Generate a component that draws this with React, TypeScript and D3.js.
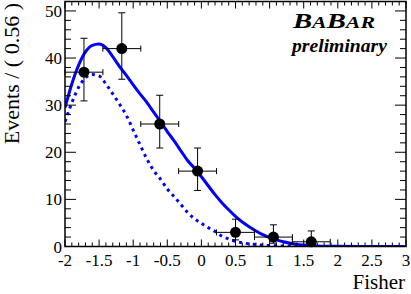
import React from "react";
import * as d3 from "d3";

// ---- data ----
const binCenters = [-1.722, -1.167, -0.611, -0.056, 0.5, 1.056, 1.611];
const counts = [37, 42, 26, 16, 3, 2, 1];
const errHigh = [44.2, 49.6, 32.1, 20.9, 5.8, 4.6, 3.3];
const errLow = [30.9, 35.5, 20.9, 11.9, 1.4, 0.7, 0.17];
const binWidth = 0.556;

const curveX = [-2.0, -1.9, -1.8, -1.7, -1.6, -1.5, -1.4, -1.3, -1.2, -1.1, -1.0, -0.9, -0.8, -0.7, -0.6, -0.5, -0.4, -0.3, -0.2, -0.1, 0.0, 0.1, 0.2, 0.3, 0.4, 0.5, 0.6, 0.7, 0.8, 0.9, 1.0, 1.1, 1.2, 1.3, 1.4, 1.5, 1.7, 2.0, 2.5, 3.0];
const totalFit = [29.5, 34.5, 38.5, 41.3, 42.7, 43.0, 42.2, 40.3, 38.2, 36.3, 34.3, 32.4, 30.6, 28.5, 26.5, 24.4, 22.4, 20.3, 18.2, 16.6, 14.8, 12.9, 11.0, 9.3, 7.8, 6.4, 5.2, 4.2, 3.3, 2.5, 1.9, 1.4, 1.0, 0.7, 0.45, 0.3, 0.12, 0.03, 0.0, 0.0];
const componentFit = [26.5, 30.5, 33.8, 35.8, 36.5, 36.2, 34.5, 32.4, 30.2, 27.8, 24.7, 21.6, 18.6, 16.1, 14.3, 12.2, 10.6, 8.9, 7.2, 5.9, 4.9, 4.0, 3.2, 2.2, 1.6, 1.1, 0.8, 0.55, 0.4, 0.3, 0.2, 0.15, 0.12, 0.08, 0.06, 0.04, 0.02, 0.0, 0.0, 0.0];

const xTicks = [-2, -1.5, -1, -0.5, 0, 0.5, 1, 1.5, 2, 2.5, 3];
const xTickLabels = ["-2", "-1.5", "-1", "-0.5", "0", "0.5", "1", "1.5", "2", "2.5", "3"];
const yTicks = [0, 10, 20, 30, 40, 50];
const yTickLabels = ["0", "10", "20", "30", "40", "50"];

const xTitle = "Fisher";
const yTitle = "Events / ( 0.56 )";

export default function App() {
  const W = 411, H = 294;
  const L = 65, R = 406, T = 1.5, B = 246.5;
  const x = d3.scaleLinear().domain([-2, 3]).range([L, R]);
  const y = d3.scaleLinear().domain([0, 52]).range([B, T]);
  const font = '"Liberation Serif", "DejaVu Serif", Times, serif';
  const ts = { fontFamily: font };

  const line = d3
    .line<number>()
    .x((_, i) => x(curveX[i]))
    .curve(d3.curveMonotoneX);
  const totalPath = line.y((d) => y(d))(totalFit) || "";
  const compPath = line.y((d) => y(d))(componentFit) || "";

  const xMinor = d3.range(-2, 3.0001, 0.1).map((v) => +v.toFixed(2));
  const yMinor = d3.range(0, 52.0001, 2);

  return (
    <svg width={W} height={H} style={{ position: "absolute", left: 0, top: 0, background: "#fff", fontFamily: font }}>
      <rect x={0} y={0} width={W} height={H} fill="#fff" />
      <defs>
        <clipPath id="plotclip">
          <rect x={L} y={T} width={R - L} height={B - T} />
        </clipPath>
      </defs>

      {/* curves */}
      <g clipPath="url(#plotclip)">
        <path d={compPath} fill="none" stroke="#0000ff" strokeWidth={3} strokeDasharray="3 4" />
        <path d={totalPath} fill="none" stroke="#0000ff" strokeWidth={3} />
      </g>

      {/* data points */}
      <g>
        {binCenters.map((c, i) => {
          const cx = x(c);
          const cy = y(counts[i]);
          const x0 = x(c - binWidth / 2);
          const x1 = x(c + binWidth / 2);
          const yh = y(errHigh[i]);
          const yl = y(errLow[i]);
          return (
            <g key={i} stroke="#000" strokeWidth={1}>
              <line x1={x0} x2={x1} y1={cy} y2={cy} />
              <line x1={x0} x2={x0} y1={cy - 3} y2={cy + 3} />
              <line x1={x1} x2={x1} y1={cy - 3} y2={cy + 3} />
              <line x1={cx} x2={cx} y1={yh} y2={yl} />
              <line x1={cx - 3.5} x2={cx + 3.5} y1={yh} y2={yh} />
              <line x1={cx - 3.5} x2={cx + 3.5} y1={yl} y2={yl} />
              <circle cx={cx} cy={cy} r={5.5} fill="#000" stroke="none" />
            </g>
          );
        })}
      </g>

      {/* ticks */}
      <g stroke="#000" strokeWidth={1}>
        {xMinor.map((v, i) => {
          const major = xTicks.some((t) => Math.abs(t - v) < 1e-6);
          const len = major ? 7 : 4;
          return (
            <g key={"xm" + i}>
              <line x1={x(v)} x2={x(v)} y1={B} y2={B - len} />
              <line x1={x(v)} x2={x(v)} y1={T} y2={T + len} />
            </g>
          );
        })}
        {yMinor.map((v, i) => {
          const major = yTicks.includes(v);
          const len = major ? 11 : 6;
          return (
            <g key={"ym" + i}>
              <line x1={L} x2={L + len} y1={y(v)} y2={y(v)} />
              <line x1={R} x2={R - len} y1={y(v)} y2={y(v)} />
            </g>
          );
        })}
      </g>

      {/* frame */}
      <rect x={L} y={T} width={R - L} height={B - T} fill="none" stroke="#000" strokeWidth={1.5} />

      {/* tick labels */}
      <g fontSize={17} fill="#000">
        {xTicks.map((t, i) => (
          <text key={"xl" + i} x={x(t)} y={266} textAnchor="middle" style={ts}>
            {xTickLabels[i]}
          </text>
        ))}
        {yTicks.map((t, i) => (
          <text key={"yl" + i} x={62} y={y(t) + 6} textAnchor="end" style={ts}>
            {yTickLabels[i]}
          </text>
        ))}
      </g>

      {/* axis titles */}
      <text x={405} y={289} fontSize={21} textAnchor="end" fill="#000" style={ts}>
        {xTitle}
      </text>
      <text transform="translate(19,3) rotate(-90)" fontSize={22} textAnchor="end" fill="#000" style={ts}>
        {yTitle}
      </text>

      {/* BaBar label */}
      <text x={293} y={28} fontWeight="bold" fontStyle="italic" fill="#000" textLength={82} lengthAdjust="spacingAndGlyphs" style={ts}>
        <tspan fontSize={21}>B</tspan>
        <tspan fontSize={16}>A</tspan>
        <tspan fontSize={21}>B</tspan>
        <tspan fontSize={16}>AR</tspan>
      </text>
      <text x={292} y={52} fontWeight="bold" fontStyle="italic" fontSize={19} fill="#000" textLength={95} lengthAdjust="spacingAndGlyphs" style={ts}>
        preliminary
      </text>
    </svg>
  );
}
